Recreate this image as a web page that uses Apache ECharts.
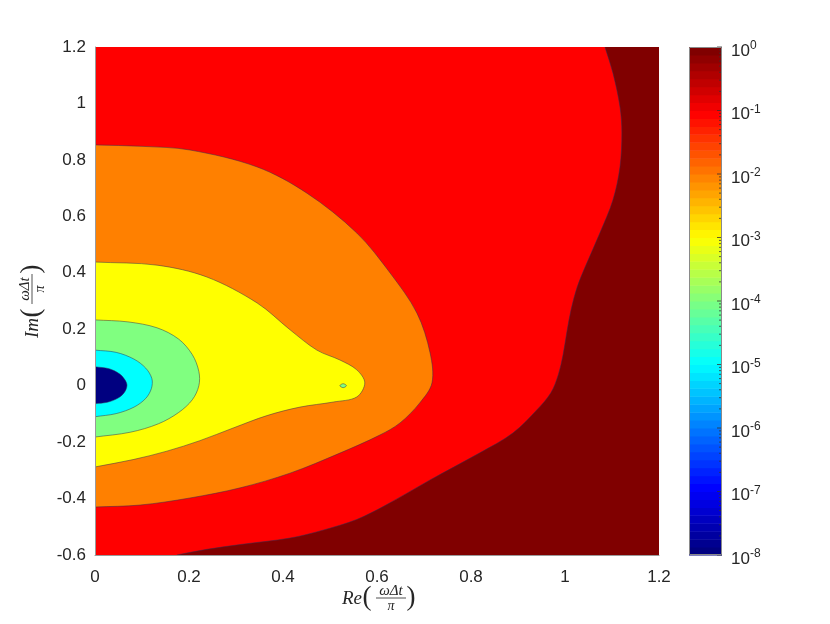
<!DOCTYPE html>
<html><head><meta charset="utf-8">
<script src="https://cdn.jsdelivr.net/npm/echarts@6/dist/echarts.min.js"></script>
<style>html,body{margin:0;padding:0;background:#fff}#c{width:830px;height:624px}</style>
</head><body><div id="c"></div>
<script>
// axis extents
const xMin = 0, xMax = 1.2, yMin = -0.6, yMax = 1.2;
const tickStep = 0.2;
// colorbar extents (log10 values)
const cbarMinExp = -8, cbarMaxExp = 0;
const cbarSteps = 64;

// contour boundaries ([Re, Im])
const maroonEdge = [[1.085,1.2],[1.102,1.108],[1.117,0.988],[1.121,0.896],[1.117,0.775],[1.102,0.658],[1.074,0.540],[1.043,0.421],[1.026,0.350],[1.013,0.270],[1.004,0.190],[0.996,0.110],[0.986,0.040],[0.970,-0.025],[0.940,-0.086],[0.889,-0.168],[0.819,-0.238],[0.713,-0.334],[0.617,-0.425],[0.557,-0.474],[0.485,-0.512],[0.415,-0.540],[0.309,-0.563],[0.238,-0.580],[0.174,-0.6]];
const orangeEdge = [[0,0.853],[0.100,0.848],[0.202,0.835],[0.345,0.775],[0.451,0.682],[0.557,0.541],[0.628,0.399],[0.685,0.257],[0.713,0.116],[0.717,0.010],[0.691,-0.061],[0.649,-0.132],[0.606,-0.175],[0.521,-0.239],[0.415,-0.310],[0.309,-0.362],[0.202,-0.398],[0.096,-0.423],[0,-0.430]];
const yellowEdge = [[0,0.438],[0.132,0.427],[0.238,0.385],[0.345,0.293],[0.415,0.198],[0.472,0.126],[0.521,0.091],[0.557,0.056],[0.574,0.010],[0.557,-0.040],[0.507,-0.058],[0.436,-0.076],[0.366,-0.106],[0.294,-0.150],[0.223,-0.195],[0.153,-0.232],[0.081,-0.262],[0,-0.288]];
const greenEdge = [[0,0.233],[0.070,0.226],[0.132,0.205],[0.178,0.165],[0.207,0.110],[0.221,0.050],[0.221,0.000],[0.207,-0.050],[0.178,-0.095],[0.135,-0.135],[0.075,-0.165],[0,-0.182]];
const cyanEdge = [[0,0.126],[0.045,0.118],[0.083,0.094],[0.108,0.062],[0.121,0.025],[0.120,-0.010],[0.108,-0.045],[0.083,-0.076],[0.045,-0.099],[0,-0.110]];
const navyEdge = [[0,0.067],[0.030,0.060],[0.052,0.042],[0.064,0.020],[0.068,0.000],[0.062,-0.025],[0.048,-0.045],[0.026,-0.059],[0,-0.064]];
const spotEdge = [[0.521,0],[0.528,0.007],[0.535,0],[0.528,-0.007]];

// colorbar tick exponents
const cbarExps = [-8,-7,-6,-5,-4,-3,-2,-1,0];

// styles
const regionColors = {maroon:'#800000', red:'#ff0000', orange:'#ff8000', yellow:'#ffff00', green:'#80ff80', cyan:'#00ffff', navy:'#000080'};
const txt = '#262626';

function jet(v){
  const c = t => Math.max(0, Math.min(1, t));
  const r = c(1.5 - Math.abs(4*v-3)), g = c(1.5 - Math.abs(4*v-2)), b = c(1.5 - Math.abs(4*v-1));
  const h = x => Math.round(x*255).toString(16).padStart(2,'0');
  return '#' + h(r) + h(g) + h(b);
}

// chord-length spline through pixel points
function splineSegments(P, closed){
  const n = P.length;
  const idx = i => closed ? (i+n)%n : i;
  const dist = (a,b) => Math.hypot(b[0]-a[0], b[1]-a[1]) || 1e-6;
  const tan = i => {
    if (!closed && i === 0){ const d = dist(P[0],P[1]); return [(P[1][0]-P[0][0])/d, (P[1][1]-P[0][1])/d]; }
    if (!closed && i === n-1){ const d = dist(P[n-2],P[n-1]); return [(P[n-1][0]-P[n-2][0])/d, (P[n-1][1]-P[n-2][1])/d]; }
    const a = P[idx(i-1)], b = P[idx(i)], c = P[idx(i+1)];
    const d0 = dist(a,b), d1 = dist(b,c);
    return [(c[0]-a[0])/(d0+d1), (c[1]-a[1])/(d0+d1)];
  };
  const segs = closed ? n : n-1;
  let d = '';
  for (let i=0;i<segs;i++){
    const p1 = P[idx(i)], p2 = P[idx(i+1)];
    const L = dist(p1,p2);
    const m1 = tan(idx(i)), m2 = tan(idx(i+1));
    const c1 = [p1[0]+m1[0]*L/3, p1[1]+m1[1]*L/3];
    const c2 = [p2[0]-m2[0]*L/3, p2[1]-m2[1]*L/3];
    d += ` C${c1[0]},${c1[1]} ${c2[0]},${c2[1]} ${p2[0]},${p2[1]}`;
  }
  return d;
}

function regionSeries(name, edge, color, mode){
  return {
    type:'custom', name, xAxisIndex:0, yAxisIndex:0, data: edge, silent:true,
    renderItem(params, api){
      if (params.dataIndex !== 0) return null;
      const P = edge.map(p => api.coord(p));
      const curve = splineSegments(P, mode === 'closed');
      let fillD;
      if (mode === 'band'){
        const a = api.coord([xMin,yMax]), b = api.coord([xMin,yMin]);
        fillD = `M${a[0]},${a[1]} L${P[0][0]},${P[0][1]}` + curve + ` L${b[0]},${b[1]} Z`;
      } else {
        fillD = `M${P[0][0]},${P[0][1]}` + curve + ' Z';
      }
      const strokeD = `M${P[0][0]},${P[0][1]}` + curve + (mode === 'closed' ? ' Z' : '');
      return {type:'group', children:[
        {type:'path', shape:{pathData: fillD}, style:{fill: color, stroke:'none'}},
        {type:'path', shape:{pathData: strokeD}, style:{fill:'none', stroke:'#2e2e55', lineWidth:0.5}}
      ]};
    }
  };
}

const bgSeries = {
  type:'custom', xAxisIndex:0, yAxisIndex:0, data:[[xMin,yMin]], silent:true,
  renderItem(params, api){
    const a = api.coord([xMin,yMax]), b = api.coord([xMax,yMin]);
    return {type:'rect', shape:{x:a[0], y:a[1], width:b[0]-a[0], height:b[1]-a[1]}, style:{fill:regionColors.maroon}};
  }
};

const bandIdx = Array.from({length:cbarSteps}, (_, i) => i);
const cbarSeries = {
  type:'custom', xAxisIndex:1, yAxisIndex:1, data: bandIdx, silent:true,
  renderItem(params, api){
    const i = api.value(0);
    const lo = Math.pow(10, cbarMinExp + (cbarMaxExp-cbarMinExp)*i/cbarSteps);
    const hi = Math.pow(10, cbarMinExp + (cbarMaxExp-cbarMinExp)*(i+1)/cbarSteps);
    const p1 = api.coord([0,hi]), p2 = api.coord([1,lo]);
    return {type:'rect', shape:{x:p1[0], y:p1[1], width:p2[0]-p1[0], height:p2[1]-p1[1]+0.5}, style:{fill: jet(i/(cbarSteps-1))}};
  }
};
const cbarTickVals = [];
cbarExps.forEach(e => { for (let k=1;k<10;k++){ const v = k*Math.pow(10,e); if (e < cbarMaxExp || k === 1) cbarTickVals.push([v, k === 1 ? 1 : 0]); } });
const cbarTickSeries = {
  type:'custom', xAxisIndex:1, yAxisIndex:1, data: cbarTickVals, silent:true, z:5,
  renderItem(params, api){
    const p = api.coord([1, api.value(0)]);
    const len = api.value(1) ? 5 : 3;
    return {type:'line', shape:{x1:p[0], y1:p[1], x2:p[0]-len, y2:p[1]}, style:{stroke:'#333', lineWidth:0.8}};
  }
};
const cbarBorder = {
  type:'custom', xAxisIndex:1, yAxisIndex:1, data:[[0]], silent:true, z:6,
  renderItem(params, api){
    const a = api.coord([0, Math.pow(10,cbarMaxExp)]), b = api.coord([1, Math.pow(10,cbarMinExp)]);
    return {type:'rect', shape:{x:a[0]+0.5, y:a[1]+0.5, width:b[0]-a[0]-1, height:b[1]-a[1]-1}, style:{fill:'none', stroke:'#8a8a8a', lineWidth:1}};
  }
};

function fracTitle(main, num, den, x, y, rot){
  const f = 'Liberation Serif';
  return {
    type:'group', x, y, rotation: rot,
    children:[
      {type:'text', x:-29, y:1, style:{text:main, font:`italic 19px "${f}"`, fill:txt, align:'right', verticalAlign:'middle'}},
      {type:'text', x:-24, y:0, style:{text:'(', font:`27px "${f}"`, fill:txt, align:'center', verticalAlign:'middle'}},
      {type:'text', x:0, y:-7, style:{text:num, font:`italic 15px "${f}"`, fill:txt, align:'center', verticalAlign:'middle'}},
      {type:'line', shape:{x1:-15, y1:0, x2:15, y2:0}, style:{stroke:txt, lineWidth:0.8}},
      {type:'text', x:0, y:8, style:{text:den, font:`italic 14px "${f}"`, fill:txt, align:'center', verticalAlign:'middle'}},
      {type:'text', x:20, y:0, style:{text:')', font:`27px "${f}"`, fill:txt, align:'center', verticalAlign:'middle'}}
    ]
  };
}

const fmt = v => String(Number(v.toFixed(1)));
const labelFont = {fontFamily:'Liberation Sans', fontSize:17, color:txt};

const option = {
  backgroundColor:'#fff',
  animation:false,
  grid:[
    {left:95, top:47, width:564, height:508},
    {left:689, top:47, width:33, height:508}
  ],
  xAxis:[
    {type:'value', gridIndex:0, min:xMin, max:xMax, interval:tickStep, z:10,
     axisLine:{show:true, onZero:false, lineStyle:{color:'#9a9a9a', width:1}}, axisTick:{show:false}, splitLine:{show:false},
     axisLabel:Object.assign({margin:14, formatter:fmt}, labelFont)},
    {type:'value', gridIndex:1, min:0, max:1, show:false}
  ],
  yAxis:[
    {type:'value', gridIndex:0, min:yMin, max:yMax, interval:tickStep, z:10,
     axisLine:{show:true, onZero:false, lineStyle:{color:'#9a9a9a', width:1}}, axisTick:{show:false}, splitLine:{show:false},
     axisLabel:Object.assign({margin:9, formatter:fmt}, labelFont)},
    {type:'log', gridIndex:1, logBase:10, min:Math.pow(10,cbarMinExp), max:Math.pow(10,cbarMaxExp), splitNumber:8, position:'right',
     axisLine:{show:false}, axisTick:{show:false}, splitLine:{show:false},
     axisLabel:{margin:9, fontFamily:'Liberation Sans', fontSize:17, color:txt, padding:[8,0,0,0],
       formatter: v => '10{s|' + Math.round(Math.log10(v)) + '}',
       rich:{s:{fontSize:12, fontFamily:'Liberation Sans', color:txt, padding:[0,0,10,0]}}}}
  ],
  series:[
    bgSeries,
    regionSeries('red', maroonEdge, regionColors.red, 'band'),
    regionSeries('orange', orangeEdge, regionColors.orange, 'left'),
    regionSeries('yellow', yellowEdge, regionColors.yellow, 'left'),
    regionSeries('green', greenEdge, regionColors.green, 'left'),
    regionSeries('cyan', cyanEdge, regionColors.cyan, 'left'),
    regionSeries('navy', navyEdge, regionColors.navy, 'left'),
    regionSeries('spot', spotEdge, regionColors.green, 'closed'),
    cbarSeries, cbarTickSeries, cbarBorder
  ],
  graphic:[
    fracTitle('Re', 'ω\u0394t', 'π', 391, 598, 0),
    fracTitle('Im', 'ω\u0394t', 'π', 32, 289, Math.PI/2)
  ]
};
const chart = echarts.init(document.getElementById('c'), null, {renderer:'canvas'});
chart.setOption(option);
</script></body></html>
